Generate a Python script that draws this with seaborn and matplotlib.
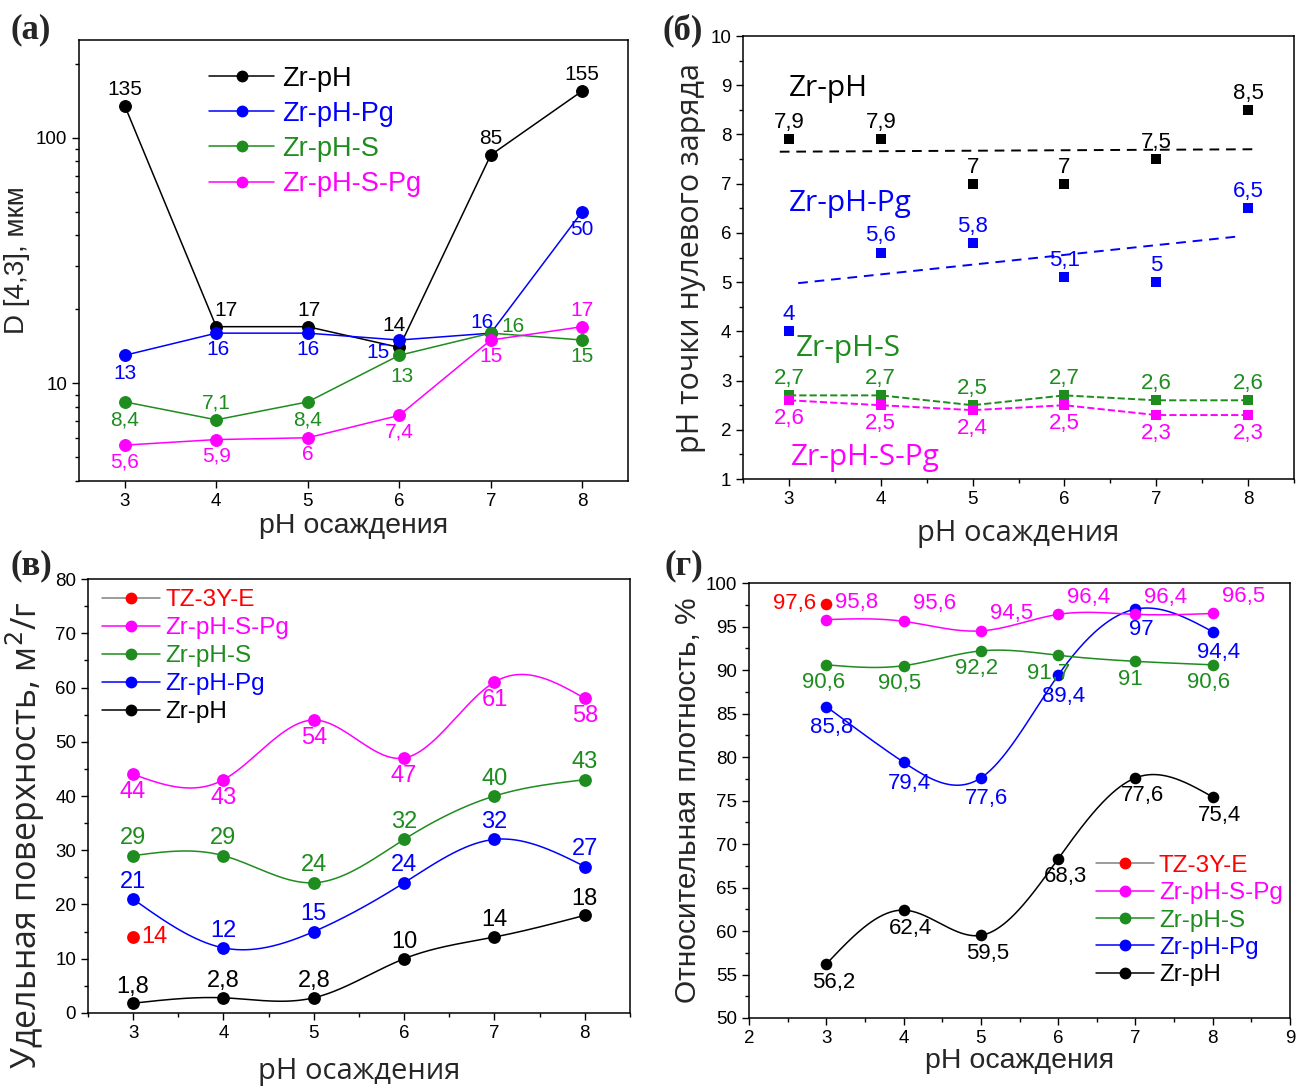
import numpy as np
import matplotlib
matplotlib.use('Agg')
import matplotlib.pyplot as plt
import seaborn as sns
from matplotlib.lines import Line2D
from matplotlib.ticker import MultipleLocator, LogLocator, FuncFormatter, NullFormatter

sns.set_style("ticks")
plt.rcParams['font.family'] = ['Liberation Sans', 'DejaVu Sans']
plt.rcParams['axes.edgecolor'] = 'black'
plt.rcParams['xtick.color'] = 'black'
plt.rcParams['ytick.color'] = 'black'

# ---------------------------------------------------------------- data
ph = [3, 4, 5, 6, 7, 8]
names = ['Zr-pH', 'Zr-pH-Pg', 'Zr-pH-S', 'Zr-pH-S-Pg']

# (а) D[4,3], мкм
d43_zrph = [135, 17, 17, 14, 85, 155]
d43_pg = [13, 16, 16, 15, 16, 50]
d43_s = [8.4, 7.1, 8.4, 13, 16, 15]
d43_spg = [5.6, 5.9, 6, 7.4, 15, 17]

# (б) pH точки нулевого заряда
pzc_zrph = [7.9, 7.9, 7, 7, 7.5, 8.5]
pzc_pg = [4, 5.6, 5.8, 5.1, 5, 6.5]
pzc_s = [2.7, 2.7, 2.5, 2.7, 2.6, 2.6]
pzc_spg = [2.6, 2.5, 2.4, 2.5, 2.3, 2.3]
trend_zrph_x, trend_zrph_y = [2.9, 8.05], [7.65, 7.7]
trend_pg_x, trend_pg_y = [3.1, 7.9], [4.98, 5.93]

# (в) удельная поверхность, м2/г
sbet_zrph = [1.8, 2.8, 2.8, 10, 14, 18]
sbet_pg = [21, 12, 15, 24, 32, 27]
sbet_s = [29, 29, 24, 32, 40, 43]
sbet_spg = [44, 43, 54, 47, 61, 58]
sbet_tz = [14]

# (г) относительная плотность, %
rho_zrph = [56.2, 62.4, 59.5, 68.3, 77.6, 75.4]
rho_pg = [85.8, 79.4, 77.6, 89.4, 97, 94.4]
rho_s = [90.6, 90.5, 92.2, 91.7, 91, 90.6]
rho_spg = [95.8, 95.6, 94.5, 96.4, 96.4, 96.5]
rho_tz = [97.6]
tz_ph = [3]

# ---------------------------------------------------------------- style
BLACK, BLUE, GREEN, MAG, RED = 'black', '#0000FF', '#1E8C1E', '#FF00FF', '#FF0000'
OPEN = ['Open Sans', 'DejaVu Sans']
TICK = 13.5


def fmt(v):
    return f"{v:g}".replace('.', ',')


def put_labels(ax, xs, ys, offs, color, size=15, family=None):
    if isinstance(offs, tuple):
        offs = [offs] * len(xs)
    for x, y, (dx, dy) in zip(xs, ys, offs):
        kw = {} if family is None else {'family': family}
        ax.annotate(fmt(y), (x, y), xytext=(dx, dy), textcoords='offset points',
                    ha='center', va='center', color=color, fontsize=size, **kw)


def spline(x, y, n=300):
    # natural cubic spline, used only to draw the smooth connecting curve
    x = np.asarray(x, float)
    y = np.asarray(y, float)
    k = len(x)
    h = np.diff(x)
    A = np.zeros((k, k))
    b = np.zeros(k)
    A[0, 0] = A[-1, -1] = 1
    for i in range(1, k - 1):
        A[i, i - 1] = h[i - 1]
        A[i, i] = 2 * (h[i - 1] + h[i])
        A[i, i + 1] = h[i]
        b[i] = 3 * ((y[i + 1] - y[i]) / h[i] - (y[i] - y[i - 1]) / h[i - 1])
    c = np.linalg.solve(A, b)
    xs = np.linspace(x[0], x[-1], n)
    idx = np.clip(np.searchsorted(x, xs) - 1, 0, k - 2)
    dx = xs - x[idx]
    bb = (y[idx + 1] - y[idx]) / h[idx] - h[idx] * (2 * c[idx] + c[idx + 1]) / 3
    d = (c[idx + 1] - c[idx]) / (3 * h[idx])
    return xs, y[idx] + bb * dx + c[idx] * dx ** 2 + d * dx ** 3


def style_axes(ax):
    for s in ax.spines.values():
        s.set_visible(True)
        s.set_linewidth(1.1)
        s.set_color('black')
    ax.tick_params(which='major', direction='out', length=5, width=1, labelsize=TICK)
    ax.tick_params(which='minor', direction='out', length=3, width=1)


def handle(color, line=None):
    return Line2D([], [], color=line or color, marker='o', ms=7.5, mfc=color, mec=color, lw=1.1)


fig = plt.figure(figsize=(12.97, 10.89), dpi=100)

# ================================================================ (а)
ax = fig.add_axes([0.0609, 0.5583, 0.4233, 0.405])
series_a = [(d43_zrph, BLACK), (d43_pg, BLUE), (d43_s, GREEN), (d43_spg, MAG)]
for (vals, col), nm in zip(series_a, names):
    sns.lineplot(x=ph, y=vals, ax=ax, color=col, marker='o', markersize=8.5,
                 markeredgecolor=col, linewidth=1.1, label=nm)
ax.set_yscale('log')
ax.set_xlim(2.5, 8.5)
ax.set_ylim(4, 250)
ax.set_xticks(ph)
ax.yaxis.set_major_locator(LogLocator(base=10))
ax.yaxis.set_major_formatter(FuncFormatter(lambda v, p: f"{v:g}"))
ax.yaxis.set_minor_locator(LogLocator(base=10, subs=np.arange(2, 10)))
ax.yaxis.set_minor_formatter(NullFormatter())
style_axes(ax)
ax.set_xlabel('pH осаждения', fontsize=20.5, labelpad=2)
ax.set_ylabel('D [4,3], мкм', fontsize=20, labelpad=4)
put_labels(ax, ph, d43_zrph, [(0, 12), (7, 12), (1, 12), (-4, 16), (0, 12), (0, 12)], BLACK)
put_labels(ax, ph, d43_pg, [(0, -13), (1, -12), (0, -12), (-15, -9), (-6, 8), (0, -13)], BLUE)
put_labels(ax, ph, d43_s, [(0, -13), (0, 12), (0, -13), (2, -15), (16, 5), (0, -12)], GREEN)
put_labels(ax, ph, d43_spg, [(0, -12), (0, -12), (0, -12), (0, -12), (0, -12), (0, 12)], MAG)
ax.legend(handles=[handle(c) for _, c in series_a], labels=names, loc='upper left',
          bbox_to_anchor=(0.237, 0.942), frameon=False, fontsize=19.5, borderpad=0,
          borderaxespad=0, handlelength=2.4, handletextpad=0.3, labelspacing=0.34,
          labelcolor='markerfacecolor')

# ================================================================ (б)
ax = fig.add_axes([0.5729, 0.5601, 0.4248, 0.4068])
ax.plot(trend_zrph_x, trend_zrph_y, color=BLACK, ls='--', lw=1.4, dashes=(5, 3.5))
ax.plot(trend_pg_x, trend_pg_y, color=BLUE, ls='--', lw=1.4, dashes=(5, 3.5))
sns.lineplot(x=ph, y=pzc_s, ax=ax, color=GREEN, linewidth=1.4, linestyle='--')
sns.lineplot(x=ph, y=pzc_spg, ax=ax, color=MAG, linewidth=1.4, linestyle='--')
for vals, col in [(pzc_zrph, BLACK), (pzc_pg, BLUE), (pzc_s, GREEN), (pzc_spg, MAG)]:
    sns.scatterplot(x=ph, y=vals, ax=ax, color=col, marker='s', s=55, linewidth=0, zorder=3)
ax.set_xlim(2.5, 8.5)
ax.set_ylim(1, 10)
ax.set_xticks(ph)
ax.set_yticks(range(1, 11))
ax.xaxis.set_minor_locator(MultipleLocator(0.5))
ax.yaxis.set_minor_locator(MultipleLocator(0.5))
style_axes(ax)
ax.set_xlabel('pH осаждения', fontsize=21, family=OPEN, labelpad=8)
ax.set_ylabel('pH точки нулевого заряда', fontsize=22, family=OPEN, labelpad=3)
put_labels(ax, ph, pzc_zrph, (0, 12), BLACK, 16)
put_labels(ax, ph, pzc_pg, (0, 12), BLUE, 16)
put_labels(ax, ph, pzc_s, (0, 12), GREEN, 16)
put_labels(ax, ph, pzc_spg, (0, -13), MAG, 16)
ax.text(3.0, 8.93, 'Zr-pH', color=BLACK, fontsize=21.5, family=OPEN, va='center')
ax.text(3.0, 6.6, 'Zr-pH-Pg', color=BLUE, fontsize=21.5, family=OPEN, va='center')
ax.text(3.07, 3.65, 'Zr-pH-S', color=GREEN, fontsize=21.5, family=OPEN, va='center')
ax.text(3.02, 1.43, 'Zr-pH-S-Pg', color=MAG, fontsize=21.5, family=OPEN, va='center')

# ================================================================ (в)
ax = fig.add_axes([0.0678, 0.0698, 0.4179, 0.3985])
series_v = [(sbet_zrph, BLACK), (sbet_pg, BLUE), (sbet_s, GREEN), (sbet_spg, MAG)]
for vals, col in series_v:
    xs, ys = spline(ph, vals)
    ax.plot(xs, ys, color=col, lw=1.1)
    sns.scatterplot(x=ph, y=vals, ax=ax, color=col, s=85, linewidth=0, zorder=3)
sns.scatterplot(x=tz_ph, y=sbet_tz, ax=ax, color=RED, s=85, linewidth=0, zorder=3)
ax.set_xlim(2.5, 8.5)
ax.set_ylim(0, 80)
ax.set_xticks(ph)
ax.yaxis.set_major_locator(MultipleLocator(10))
ax.xaxis.set_minor_locator(MultipleLocator(0.5))
ax.yaxis.set_minor_locator(MultipleLocator(5))
style_axes(ax)
ax.set_xlabel('pH осаждения', fontsize=21, family=OPEN, labelpad=11)
ax.set_ylabel('Удельная поверхность, м$^2$/г', fontsize=24.5, family=OPEN)
ax.yaxis.set_label_coords(-0.076, 0.41)
put_labels(ax, ph, sbet_spg, (0, -13), MAG, 17)
put_labels(ax, ph, sbet_s, (0, 12.5), GREEN, 17)
put_labels(ax, ph, sbet_pg, (0, 12.5), BLUE, 17)
put_labels(ax, ph, sbet_zrph, (0, 12), BLACK, 17)
put_labels(ax, tz_ph, sbet_tz, (15, 0), RED, 17)
leg_names = ['TZ-3Y-E', 'Zr-pH-S-Pg', 'Zr-pH-S', 'Zr-pH-Pg', 'Zr-pH']
leg_handles = [handle(RED, 'grey'), handle(MAG), handle(GREEN), handle(BLUE), handle(BLACK)]
ax.legend(handles=leg_handles, labels=leg_names, loc='upper left',
          bbox_to_anchor=(0.026, 0.977), frameon=False, fontsize=17.5, borderpad=0,
          borderaxespad=0, handlelength=2.4, handletextpad=0.2, labelspacing=0.25,
          labelcolor='markerfacecolor')

# ================================================================ (г)
ax = fig.add_axes([0.5775, 0.0652, 0.4171, 0.3994])
series_g = [(rho_zrph, BLACK), (rho_pg, BLUE), (rho_s, GREEN), (rho_spg, MAG)]
for vals, col in series_g:
    xs, ys = spline(ph, vals)
    ax.plot(xs, ys, color=col, lw=1.1)
    sns.scatterplot(x=ph, y=vals, ax=ax, color=col, s=70, linewidth=0, zorder=3)
sns.scatterplot(x=tz_ph, y=rho_tz, ax=ax, color=RED, s=70, linewidth=0, zorder=3)
ax.set_xlim(2, 9)
ax.set_ylim(50, 100)
ax.xaxis.set_major_locator(MultipleLocator(1))
ax.yaxis.set_major_locator(MultipleLocator(5))
ax.xaxis.set_minor_locator(MultipleLocator(0.5))
ax.yaxis.set_minor_locator(MultipleLocator(2.5))
style_axes(ax)
ax.set_xlabel('pH осаждения', fontsize=20.5, labelpad=1)
ax.set_ylabel('Относительная плотность, %', fontsize=21.5, labelpad=3)
put_labels(ax, ph, rho_spg, (22, 12.5), MAG, 16)
put_labels(ax, ph, rho_s, [(-2, -13), (-3, -13), (-3, -13), (-7, -13), (-4, -13), (-3, -13)], GREEN, 16)
put_labels(ax, ph, rho_pg, (4, -15), BLUE, 16)
put_labels(ax, ph, rho_zrph, (5, -13), BLACK, 16)
put_labels(ax, tz_ph, rho_tz, (-23, 0), RED, 16)
ax.legend(handles=leg_handles, labels=leg_names, loc='upper left',
          bbox_to_anchor=(0.641, 0.375), frameon=False, fontsize=17.5, borderpad=0,
          borderaxespad=0, handlelength=2.4, handletextpad=0.2, labelspacing=0.22,
          labelcolor='markerfacecolor')

# panel letters
for x, y, t in [(10, 30, '(а)'), (662, 30, '(б)'), (10, 566, '(в)'), (665, 566, '(г)')]:
    fig.text(x / 1297, 1 - y / 1089, t, fontsize=25, fontweight='bold',
             family=['Liberation Serif', 'DejaVu Serif'], ha='left', va='center')

fig.savefig('out.png', dpi=100)
